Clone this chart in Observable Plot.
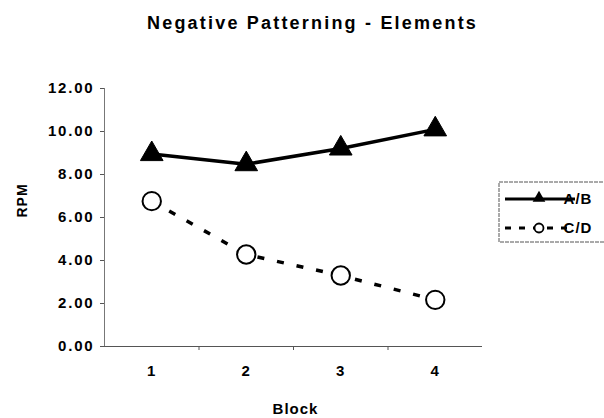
<!DOCTYPE html>
<html>
<head>
<meta charset="utf-8">
<script src="https://cdn.jsdelivr.net/npm/d3@7"></script>
<script src="https://cdn.jsdelivr.net/npm/@observablehq/plot@0.6"></script>
<style>
  html, body { margin: 0; padding: 0; background: #fff; }
  #chart { position: relative; width: 604px; height: 418px; overflow: hidden; }
</style>
</head>
<body>
<div id="chart"></div>
<script>
const blocks = [1, 2, 3, 4];
const seriesAB = [8.95, 8.48, 9.21, 10.1];
const seriesCD = [6.76, 4.28, 3.30, 2.17];
const yTicks = [0, 2, 4, 6, 8, 10, 12];
const seriesNames = ["A/B", "C/D"];
const titleText = "Negative Patterning - Elements";
const xLabel = "Block";
const yLabel = "RPM";

const ab = blocks.map((b, i) => ({block: b, value: seriesAB[i]}));
const cd = blocks.map((b, i) => ({block: b, value: seriesCD[i]}));
const bounds = blocks.slice(0, -1).map(b => b + 0.5);

const font = "'Liberation Sans', Arial, sans-serif";

const plot = Plot.plot({
  width: 604,
  height: 418,
  marginLeft: 104,
  marginRight: 122,
  marginTop: 88,
  marginBottom: 72,
  style: {fontFamily: font, background: "#fff", color: "#000"},
  x: {domain: [0.5, 4.5]},
  y: {domain: [0, 12]},
  marks: [
    Plot.axisY({ticks: yTicks, tickFormat: d3.format(".2f"), tickSize: 4, tickPadding: 6,
      fontSize: 15, fontWeight: "bold", label: null, stroke: "#555"}),
    Plot.axisX({ticks: blocks, tickSize: 0, tickPadding: 19, tickFormat: d => String(d),
      fontSize: 15, fontWeight: "bold", label: null}),
    Plot.axisX({ticks: bounds, tickSize: 4, text: null, label: null, stroke: "#555"}),
    Plot.ruleY([0], {stroke: "#555", strokeWidth: 1}),
    Plot.ruleX([0.5], {stroke: "#777", strokeWidth: 1}),
    Plot.line(cd, {x: "block", y: "value", stroke: "#000", strokeWidth: 3.5, strokeDasharray: "7,13", strokeLinecap: "butt"}),
    Plot.line(ab, {x: "block", y: "value", stroke: "#000", strokeWidth: 3.5}),
    Plot.dot(ab, {x: "block", y: "value", symbol: "triangle", r: 8.4, fill: "#000", stroke: "#000", strokeWidth: 1}),
    Plot.dot(cd, {x: "block", y: "value", symbol: "circle", r: 9.2, fill: "#fff", stroke: "#000", strokeWidth: 2}),
    Plot.text([titleText], {frameAnchor: "top", dx: 19, dy: -65, lineAnchor: "middle",
      fontSize: 18, fontWeight: "bold", className: "ttl"}),
    Plot.text([xLabel], {frameAnchor: "bottom", dx: 2, dy: 63, lineAnchor: "middle",
      fontSize: 15, fontWeight: "bold", className: "xlab"}),
    Plot.text([yLabel], {frameAnchor: "left", dx: -82, rotate: -90, lineAnchor: "middle",
      fontSize: 14, fontWeight: "bold", className: "ylab"})
  ]
});

document.getElementById("chart").appendChild(plot);

const svg = d3.select(plot);
// Widen the lettering to match the stretched look of the original
svg.selectAll(".ttl text, g.ttl").style("letter-spacing", "2.2px");
svg.selectAll("g[aria-label='y-axis tick label']").style("letter-spacing", "1.8px");
svg.selectAll("g[aria-label='x-axis tick label']").style("letter-spacing", "1px");
svg.selectAll(".xlab text, g.xlab").style("letter-spacing", "1px");
svg.selectAll(".ylab text, g.ylab").style("letter-spacing", "1px");

// Legend
const lg = svg.append("g").attr("font-family", font);
lg.append("rect").attr("x", 499).attr("y", 182).attr("width", 140).attr("height", 60)
  .attr("fill", "#fff").attr("stroke", "#555").attr("stroke-width", 1).attr("stroke-dasharray", "4,1");
const rows = [{y: 199, name: seriesNames[0], dash: null},
              {y: 228, name: seriesNames[1], dash: "6,8"}];
rows.forEach((r, i) => {
  lg.append("line").attr("x1", 505).attr("x2", 575).attr("y1", r.y).attr("y2", r.y)
    .attr("stroke", "#000").attr("stroke-width", 3)
    .attr("stroke-dasharray", r.dash);
  if (i === 0) {
    lg.append("path").attr("d", d3.symbol(d3.symbolTriangle, 70)())
      .attr("transform", `translate(539,${r.y - 1})`).attr("fill", "#000");
  } else {
    lg.append("circle").attr("cx", 539).attr("cy", r.y).attr("r", 4.5)
      .attr("fill", "#fff").attr("stroke", "#000").attr("stroke-width", 1.8);
  }
  lg.append("text").attr("x", 578).attr("y", r.y).attr("dy", "0.35em")
    .attr("font-size", 15).attr("font-weight", "bold").style("letter-spacing", "1px").text(r.name);
});
</script>
</body>
</html>
